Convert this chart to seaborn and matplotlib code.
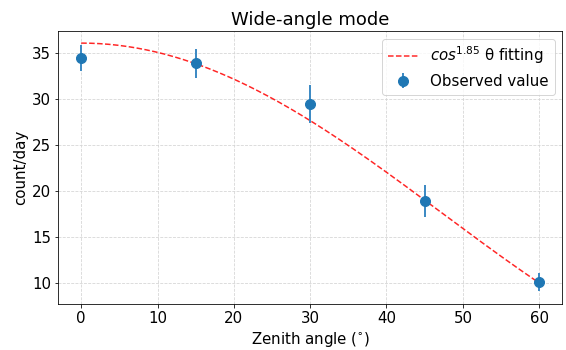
import matplotlib
matplotlib.use("Agg")
import matplotlib.pyplot as plt
import numpy as np
import seaborn as sns

# observed counts
zenith = [0, 15, 30, 45, 60]
counts = [34.5, 33.9, 29.45, 18.9, 10.1]
errors = [1.4, 1.6, 2.05, 1.75, 0.95]

# fit parameters of the cos^n model shown in the legend
fit_amp = 36.1
fit_exp = 1.85

theta = np.linspace(0, 60, 200)
fit = fit_amp * np.cos(np.radians(theta)) ** fit_exp

plt.rcParams['font.size'] = 15

fig, ax = plt.subplots(figsize=(566 / 72, 350 / 72), dpi=72)
fig.subplots_adjust(left=0.103, right=0.993, top=0.911, bottom=0.131)

sns.lineplot(x=theta, y=fit, ax=ax, color='red', linestyle='--', linewidth=1.5,
             alpha=0.85, label=r'$cos^{1.85}$ θ fitting')
ax.errorbar(zenith, counts, yerr=errors, fmt='o', color='#1f77b4', markersize=10,
            elinewidth=2, ecolor='#3f8bc4', label='Observed value')

ax.set_xlim(-3, 63)
ax.set_ylim(7.7, 37.4)
ax.set_xticks([0, 10, 20, 30, 40, 50, 60])
ax.set_yticks([10, 15, 20, 25, 30, 35])
ax.grid(True, linestyle='--', color='#d5d5d5', linewidth=0.8)
ax.set_axisbelow(True)

ax.set_title('Wide-angle mode', fontsize=18)
ax.set_xlabel('Zenith angle ($^{\\circ}$)')
ax.set_ylabel('count/day')
ax.legend(loc='upper right')

fig.savefig('out.png', dpi=72)
